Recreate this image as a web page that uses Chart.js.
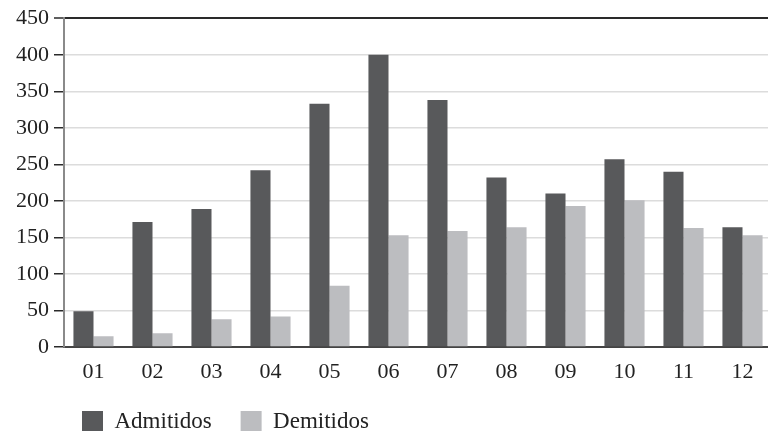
<!DOCTYPE html>
<html>
<head>
<meta charset="utf-8">
<script src="https://cdn.jsdelivr.net/npm/chart.js@4"></script>
<style>
  html, body { margin: 0; padding: 0; background: #fff; overflow: hidden; }
  #wrap { width: 768px; height: 431px; overflow: hidden; }
  #wrap canvas { display: block; }
</style>
</head>
<body>
<div id="wrap"><canvas id="myChart" width="772" height="431" style="width:772px;height:431px"></canvas></div>
<script>
const meses = ['01', '02', '03', '04', '05', '06', '07', '08', '09', '10', '11', '12'];
const admitidos = [49, 171, 189, 242, 333, 400, 338, 232, 210, 257, 240, 164];
const demitidos = [15, 19, 38, 42, 84, 153, 159, 164, 193, 201, 163, 153];
const yTicks = [0, 50, 100, 150, 200, 250, 300, 350, 400, 450];

const serif = "'Liberation Serif', 'DejaVu Serif', serif";

// put the legend under the plot, left side, like in the original
const legendShift = {
    id: 'legendShift',
    afterLayout(chart) {
        chart.legend.left = 53;
        chart.legend.top = 381;
    }
};

const ctx = document.getElementById('myChart');
new Chart(ctx, {
    type: 'bar',
    data: {
        labels: meses,
        datasets: [{
            label: 'Admitidos',
            data: admitidos,
            backgroundColor: '#58595b',
            borderWidth: 0,
        }, {
            label: 'Demitidos',
            data: demitidos,
            backgroundColor: '#bcbdc0',
            borderWidth: 0,
        }]
    },
    options: {
        responsive: false,
        animation: false,
        layout: { padding: { top: 16.5, right: 0, bottom: -20.5, left: 0 } },
        datasets: {
            bar: { categoryPercentage: 0.68, barPercentage: 1.0 }
        },
        scales: {
            x: {
                grid: { display: false },
                border: { display: true, color: '#444', width: 2 },
                ticks: { color: '#222', padding: 4, font: { family: serif, size: 22 } }
            },
            y: {
                min: 0,
                max: 450,
                afterFit(scale) { scale.width = 64; },
                afterBuildTicks(scale) { scale.ticks = yTicks.map(v => ({ value: v })); },
                grid: {
                    color: c => (c.tick && (c.tick.value === 450 || c.tick.value === 0)) ? '#2a2a2a' : '#dcdcdc',
                    lineWidth: c => (c.tick && c.tick.value === 450) ? 2 : 1.5,
                    tickColor: '#2a2a2a',
                    tickLength: 10,
                    tickWidth: 1.5
                },
                border: { display: true, color: '#8a8a8a', width: 2 },
                ticks: { color: '#222', padding: 5, font: { family: serif, size: 22 } }
            }
        },
        plugins: {
            legend: {
                position: 'bottom',
                align: 'start',
                labels: {
                    boxWidth: 21,
                    boxHeight: 21,
                    padding: 29,
                    color: '#222',
                    font: { family: serif, size: 23 }
                }
            },
            tooltip: { enabled: false }
        }
    },
    plugins: [legendShift]
});
</script>
</body>
</html>
